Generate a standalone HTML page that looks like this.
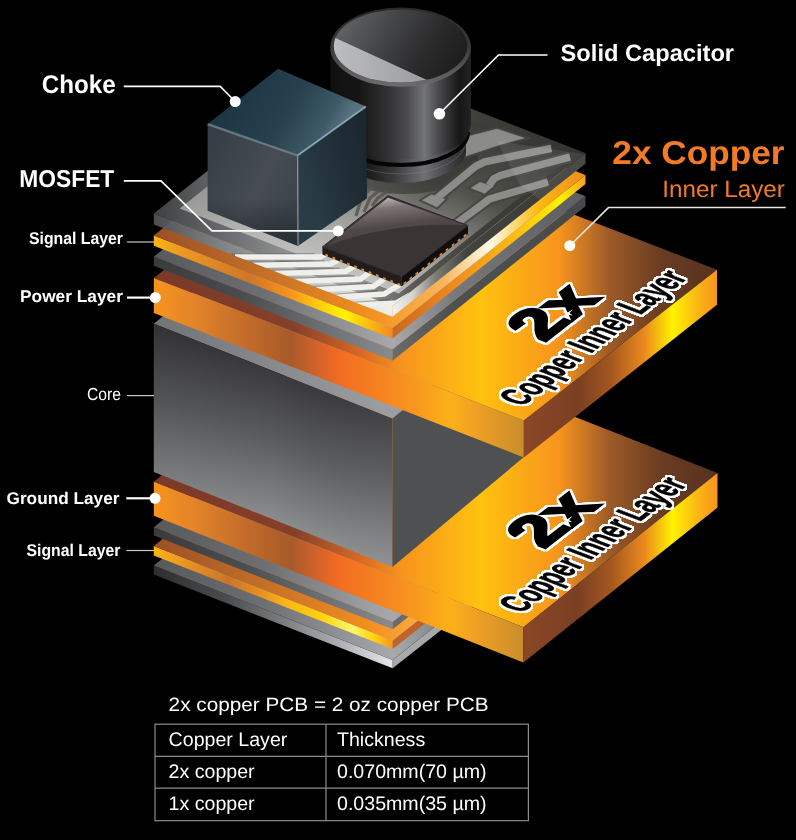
<!DOCTYPE html>
<html><head><meta charset="utf-8"><title>2x Copper PCB</title>
<style>
html,body{margin:0;padding:0;background:#000;}
body{width:796px;height:840px;overflow:hidden;}
svg{display:block;font-family:"Liberation Sans",Arial,sans-serif;will-change:transform;text-rendering:geometricPrecision;}
</style></head><body>
<svg width="796" height="840" viewBox="0 0 796 840">
<rect width="796" height="840" fill="#000"/>
<defs>
<linearGradient id="gGrayL" gradientUnits="userSpaceOnUse" x1="154" y1="0" x2="393" y2="0"><stop offset="0" stop-color="#3b3b3d"/><stop offset="0.35" stop-color="#4a4b4d"/><stop offset="1" stop-color="#898b8e"/></linearGradient>
<linearGradient id="gGrayTop" gradientUnits="userSpaceOnUse" x1="154" y1="0" x2="586" y2="0"><stop offset="0" stop-color="#58595b"/><stop offset="0.25" stop-color="#6d6e71"/><stop offset="0.553" stop-color="#a7a9ac"/><stop offset="0.7" stop-color="#77787b"/><stop offset="1" stop-color="#5c5d60"/></linearGradient>
<linearGradient id="gGrayR" gradientUnits="userSpaceOnUse" x1="393" y1="0" x2="586" y2="0"><stop offset="0" stop-color="#6a6b6e"/><stop offset="0.3" stop-color="#4f5052"/><stop offset="1" stop-color="#48494b"/></linearGradient>
<linearGradient id="gGray9L" gradientUnits="userSpaceOnUse" x1="154" y1="0" x2="393" y2="0"><stop offset="0" stop-color="#2e2e30"/><stop offset="0.3" stop-color="#4a4b4d"/><stop offset="0.75" stop-color="#a7a9ac"/><stop offset="1" stop-color="#e6e7e8"/></linearGradient>
<linearGradient id="gSigL" gradientUnits="userSpaceOnUse" x1="154" y1="0" x2="393" y2="0"><stop offset="0" stop-color="#fbb615"/><stop offset="0.1" stop-color="#f09a22"/><stop offset="0.4" stop-color="#cf752a"/><stop offset="0.57" stop-color="#f7941e"/><stop offset="0.7" stop-color="#ffd20e"/><stop offset="0.8" stop-color="#fff200"/><stop offset="0.9" stop-color="#fdb913"/><stop offset="1" stop-color="#f08a1e"/></linearGradient>
<linearGradient id="gSigL8" gradientUnits="userSpaceOnUse" x1="154" y1="0" x2="393" y2="0"><stop offset="0" stop-color="#fbb615"/><stop offset="0.1" stop-color="#f09a22"/><stop offset="0.31" stop-color="#c8752a"/><stop offset="0.45" stop-color="#e89022"/><stop offset="0.55" stop-color="#fbb615"/><stop offset="0.7" stop-color="#ffd20e"/><stop offset="0.83" stop-color="#fff56a"/><stop offset="0.92" stop-color="#ffd20e"/><stop offset="1" stop-color="#f7941e"/></linearGradient>
<linearGradient id="gSigTop" gradientUnits="userSpaceOnUse" x1="154" y1="0" x2="586" y2="0"><stop offset="0" stop-color="#9c4f26"/><stop offset="0.25" stop-color="#c36f28"/><stop offset="0.5" stop-color="#f38f1f"/><stop offset="0.58" stop-color="#f7a336"/><stop offset="0.67" stop-color="#f9b55e"/><stop offset="0.775" stop-color="#fffbe8"/><stop offset="0.89" stop-color="#fdb913"/><stop offset="1" stop-color="#f08a1e"/></linearGradient>
<linearGradient id="gSigR" gradientUnits="userSpaceOnUse" x1="393" y1="0" x2="586" y2="0"><stop offset="0" stop-color="#c8691f"/><stop offset="0.3" stop-color="#f0881e"/><stop offset="0.62" stop-color="#fdb913"/><stop offset="0.87" stop-color="#fff200"/><stop offset="1" stop-color="#f9a01e"/></linearGradient>
<linearGradient id="gSlabL" gradientUnits="userSpaceOnUse" x1="154" y1="0" x2="524" y2="0"><stop offset="0" stop-color="#f7941e"/><stop offset="0.12" stop-color="#e0822a"/><stop offset="0.26" stop-color="#c06a2a"/><stop offset="0.37" stop-color="#a85a2a"/><stop offset="0.45" stop-color="#d8642a"/><stop offset="0.5" stop-color="#f26c22"/><stop offset="0.61" stop-color="#f58220"/><stop offset="0.69" stop-color="#f7941e"/><stop offset="0.8" stop-color="#fbb01a"/><stop offset="0.87" stop-color="#f0a024"/><stop offset="1" stop-color="#c98d2b"/></linearGradient>
<linearGradient id="gSlabTop" gradientUnits="userSpaceOnUse" x1="154" y1="0" x2="717" y2="0"><stop offset="0" stop-color="#7a3828"/><stop offset="0.25" stop-color="#86402a"/><stop offset="0.37" stop-color="#d96a25"/><stop offset="0.44" stop-color="#f7941e"/><stop offset="0.58" stop-color="#ffc20e"/><stop offset="0.72" stop-color="#f7941e"/><stop offset="0.81" stop-color="#9c5a28"/><stop offset="0.9" stop-color="#6a3c22"/><stop offset="1" stop-color="#573220"/></linearGradient>
<linearGradient id="gSlabR" gradientUnits="userSpaceOnUse" x1="524" y1="0" x2="717" y2="0"><stop offset="0" stop-color="#8b4726"/><stop offset="0.28" stop-color="#7a3f22"/><stop offset="0.45" stop-color="#a3571f"/><stop offset="0.62" stop-color="#ea881e"/><stop offset="0.77" stop-color="#fff200"/><stop offset="0.9" stop-color="#fbb615"/><stop offset="1" stop-color="#f7941e"/></linearGradient>
<linearGradient id="gSlabTopSl" gradientUnits="userSpaceOnUse" x1="154" y1="0" x2="393" y2="0"><stop offset="0" stop-color="#7c3a27"/><stop offset="0.6" stop-color="#7c3a27"/><stop offset="1" stop-color="#b65b27"/></linearGradient>
<linearGradient id="gCoreL" gradientUnits="userSpaceOnUse" x1="290" y1="376" x2="236" y2="516"><stop offset="0" stop-color="#39393b"/><stop offset="0.45" stop-color="#5c5d5f"/><stop offset="1" stop-color="#909294"/></linearGradient>
<linearGradient id="gCoreLh" gradientUnits="userSpaceOnUse" x1="154" y1="0" x2="393" y2="0"><stop offset="0" stop-color="#000" stop-opacity="0.12"/><stop offset="0.5" stop-color="#000" stop-opacity="0.0"/><stop offset="1" stop-color="#fff" stop-opacity="0.05"/></linearGradient>
<linearGradient id="gSlabL2" gradientUnits="userSpaceOnUse" x1="154" y1="0" x2="524" y2="0"><stop offset="0" stop-color="#f7941e"/><stop offset="0.3" stop-color="#cf742c"/><stop offset="0.55" stop-color="#f26f21"/><stop offset="0.72" stop-color="#f7941e"/><stop offset="0.85" stop-color="#f9a81a"/><stop offset="1" stop-color="#c98d2b"/></linearGradient>
<linearGradient id="gSlabTop2" gradientUnits="userSpaceOnUse" x1="300" y1="0" x2="717" y2="0"><stop offset="0" stop-color="#f26f21"/><stop offset="0.22" stop-color="#f7941e"/><stop offset="0.42" stop-color="#ffc20e"/><stop offset="0.6" stop-color="#f7941e"/><stop offset="0.8" stop-color="#8b4a25"/><stop offset="1" stop-color="#5d3620"/></linearGradient>
<linearGradient id="gCoreTop" gradientUnits="userSpaceOnUse" x1="154" y1="0" x2="393" y2="0"><stop offset="0" stop-color="#727376"/><stop offset="1" stop-color="#9d9fa2"/></linearGradient>
<linearGradient id="gTBL" gradientUnits="userSpaceOnUse" x1="154" y1="0" x2="393" y2="0"><stop offset="0" stop-color="#4d5357" stop-opacity="0.92"/><stop offset="0.25" stop-color="#7a7e83" stop-opacity="0.96"/><stop offset="0.5" stop-color="#a2a3a4"/><stop offset="0.8" stop-color="#d9d9d5"/><stop offset="1" stop-color="#f2f2ec"/></linearGradient>
<linearGradient id="gTBR" gradientUnits="userSpaceOnUse" x1="393" y1="0" x2="586" y2="0"><stop offset="0" stop-color="#f2f2ec"/><stop offset="0.1" stop-color="#d5d5cf"/><stop offset="0.22" stop-color="#7d7d77"/><stop offset="0.38" stop-color="#41433f"/><stop offset="1" stop-color="#3a3a37"/></linearGradient>
<linearGradient id="gTBTop" gradientUnits="userSpaceOnUse" x1="154" y1="0" x2="586" y2="0"><stop offset="0" stop-color="#3e4042"/><stop offset="0.12" stop-color="#5e5f62"/><stop offset="0.28" stop-color="#88898b"/><stop offset="0.45" stop-color="#a8a9a9"/><stop offset="0.6" stop-color="#5a5a55"/><stop offset="0.75" stop-color="#3e3e3a"/><stop offset="1" stop-color="#323230"/></linearGradient>
<linearGradient id="gTBIn" gradientUnits="userSpaceOnUse" x1="300" y1="270.2" x2="376.9" y2="72.2"><stop offset="0" stop-color="#c6c6c4"/><stop offset="0.2" stop-color="#adadab"/><stop offset="0.42" stop-color="#80807c"/><stop offset="0.62" stop-color="#53534d"/><stop offset="1" stop-color="#3a3a37"/></linearGradient>
<linearGradient id="gTBInH" gradientUnits="userSpaceOnUse" x1="154" y1="0" x2="586" y2="0"><stop offset="0" stop-color="#000" stop-opacity="0.25"/><stop offset="0.2" stop-color="#000" stop-opacity="0.05"/><stop offset="0.35" stop-color="#fff" stop-opacity="0.04"/><stop offset="0.5" stop-color="#fff" stop-opacity="0.08"/><stop offset="0.7" stop-color="#000" stop-opacity="0.0"/><stop offset="1" stop-color="#000" stop-opacity="0.15"/></linearGradient>
<linearGradient id="gCapBody" gradientUnits="userSpaceOnUse" x1="330" y1="0" x2="471" y2="0"><stop offset="0" stop-color="#101010"/><stop offset="0.2" stop-color="#151515"/><stop offset="0.4" stop-color="#303032"/><stop offset="0.55" stop-color="#4c4c4e"/><stop offset="0.67" stop-color="#737477"/><stop offset="0.78" stop-color="#464648"/><stop offset="0.92" stop-color="#161616"/><stop offset="1" stop-color="#232323"/></linearGradient>
<linearGradient id="gCapTop" gradientUnits="userSpaceOnUse" x1="345" y1="15" x2="455" y2="80"><stop offset="0" stop-color="#626365"/><stop offset="0.35" stop-color="#444547"/><stop offset="0.7" stop-color="#2a2a2b"/><stop offset="1" stop-color="#1c1c1d"/></linearGradient>
<linearGradient id="gCapBase" gradientUnits="userSpaceOnUse" x1="335" y1="0" x2="466" y2="0"><stop offset="0" stop-color="#0c0c0c"/><stop offset="0.25" stop-color="#1a1a1a"/><stop offset="0.45" stop-color="#3a3a3c"/><stop offset="0.68" stop-color="#707174"/><stop offset="0.84" stop-color="#4a4a4c"/><stop offset="1" stop-color="#262626"/></linearGradient>
<linearGradient id="gCapWedge" gradientUnits="userSpaceOnUse" x1="335" y1="0" x2="430" y2="0"><stop offset="0" stop-color="#bcbdbf"/><stop offset="1" stop-color="#9a9b9d"/></linearGradient>
<linearGradient id="gCapRim" gradientUnits="userSpaceOnUse" x1="0" y1="8" x2="0" y2="87"><stop offset="0" stop-color="#2a2a2b"/><stop offset="0.5" stop-color="#3a3a3b"/><stop offset="1" stop-color="#6e6e70"/></linearGradient>
<linearGradient id="gCubeTop" gradientUnits="userSpaceOnUse" x1="240" y1="85" x2="335" y2="140"><stop offset="0" stop-color="#1c3743"/><stop offset="0.5" stop-color="#27424e"/><stop offset="0.85" stop-color="#3f5a67"/><stop offset="1" stop-color="#5a7280"/></linearGradient>
<linearGradient id="gCubeL" gradientUnits="userSpaceOnUse" x1="207" y1="150" x2="298" y2="200"><stop offset="0" stop-color="#353e46"/><stop offset="0.6" stop-color="#474c53"/><stop offset="1" stop-color="#3c444b"/></linearGradient>
<linearGradient id="gCubeLv" gradientUnits="userSpaceOnUse" x1="0" y1="130" x2="0" y2="246"><stop offset="0" stop-color="#000" stop-opacity="0"/><stop offset="0.6" stop-color="#000" stop-opacity="0"/><stop offset="1" stop-color="#101820" stop-opacity="0.45"/></linearGradient>
<linearGradient id="gCubeR" gradientUnits="userSpaceOnUse" x1="298" y1="170" x2="367" y2="150"><stop offset="0" stop-color="#2a3d47"/><stop offset="0.5" stop-color="#223039"/><stop offset="1" stop-color="#1c2830"/></linearGradient>
<linearGradient id="gMosGloss" gradientUnits="userSpaceOnUse" x1="388" y1="196" x2="395" y2="250"><stop offset="0" stop-color="#c9bebe"/><stop offset="0.22" stop-color="#7d7273"/><stop offset="0.55" stop-color="#51484a"/><stop offset="1" stop-color="#433b3c"/></linearGradient>
<filter id="outl" x="-10%" y="-10%" width="120%" height="120%" color-interpolation-filters="sRGB"><feMorphology in="SourceAlpha" operator="dilate" radius="2.2" result="d"/><feGaussianBlur in="d" stdDeviation="0.6" result="db"/><feComponentTransfer in="db" result="dd"><feFuncA type="linear" slope="3" intercept="-0.6"/></feComponentTransfer><feFlood flood-color="#fff"/><feComposite in2="dd" operator="in" result="w"/><feMerge><feMergeNode in="w"/><feMergeNode in="SourceGraphic"/></feMerge></filter>
</defs>
<polygon points="153.8,565.6 392.7,660.1 392.7,668.3 153.8,574.6" fill="url(#gGray9L)" />
<polygon points="392.7,660.1 585.7,507.1 585.7,516.1 392.7,668.3" fill="#a7a9ac" />
<polygon points="153.8,565.6 392.7,660.1 585.7,507.1 346.8,412.6" fill="url(#gGrayTop)" />
<polygon points="153.8,546.0 392.7,640.5 392.7,649.1 153.8,555.6" fill="url(#gSigL8)" />
<polygon points="392.7,640.5 585.7,487.5 585.7,497.1 392.7,649.1" fill="#c0632a" />
<polygon points="153.8,546.0 392.7,640.5 585.7,487.5 346.8,393.0" fill="url(#gSigTop)" />
<polygon points="153.8,527.2 392.7,621.7 392.7,629.3 153.8,535.4" fill="url(#gGrayL)" />
<polygon points="392.7,621.7 585.7,468.7 585.7,476.9 392.7,629.3" fill="#6a6b6e" />
<polygon points="153.8,527.2 392.7,621.7 585.7,468.7 346.8,374.2" fill="url(#gGrayTop)" />
<polygon points="153.8,481.7 523.4,627.3 717.5,473.1 347.9,327.5" fill="url(#gSlabTop)" />
<polygon points="153.8,481.7 523.4,627.3 523.4,662.5 153.8,515.8" fill="url(#gSlabL)" />
<polygon points="523.4,627.3 717.5,473.1 717.5,507.6 523.4,662.5" fill="url(#gSlabR)" />
<polygon points="153.8,323.7 392.4,418.6 585.4,260.6 346.8,165.7" fill="url(#gCoreTop)" />
<polygon points="153.8,323.7 392.4,418.6 392.4,566.9 153.8,472.0" fill="url(#gCoreL)" />
<polygon points="153.8,323.7 392.4,418.6 392.4,566.9 153.8,472.0" fill="url(#gCoreLh)" />
<polygon points="392.4,418.6 585.4,260.6 585.4,405.7 392.4,566.9" fill="#4f5052" />
<polygon points="153.8,278.0 523.8,420.5 717.0,269.7 347.0,127.2" fill="url(#gSlabTop)" />
<polygon points="153.8,278.0 523.8,420.5 523.8,457.4 153.8,313.0" fill="url(#gSlabL)" />
<polygon points="523.8,420.5 717.0,269.7 717.0,304.7 523.8,457.4" fill="url(#gSlabR)" />
<polygon points="153.8,256.7 392.5,349.3 392.5,360.8 153.8,265.8" fill="url(#gGrayL)" />
<polygon points="392.5,349.3 585.5,196.3 585.5,206.3 392.5,360.8" fill="url(#gGrayR)" />
<polygon points="153.8,256.7 392.5,349.3 585.5,196.3 346.8,103.7" fill="url(#gGrayTop)" />
<polygon points="153.8,235.5 392.5,328.1 392.5,338.6 153.8,245.8" fill="url(#gSigL)" />
<polygon points="392.5,328.1 585.5,175.1 585.5,184.1 392.5,338.6" fill="url(#gSigR)" />
<polygon points="153.8,235.5 392.5,328.1 585.5,175.1 346.8,82.5" fill="url(#gSigTop)" />
<polygon points="153.8,213.5 392.5,306.1 392.5,316.7 153.8,224.5" fill="url(#gTBL)" />
<polygon points="392.5,306.1 585.5,153.1 585.5,163.5 392.5,316.7" fill="url(#gTBR)" />
<polygon points="153.8,213.5 392.5,306.1 585.5,153.1 346.8,60.5" fill="url(#gTBTop)" />
<polygon points="179.7,208.5 398.7,293.5 568.3,159.0 349.3,74.0" fill="url(#gTBIn)" />
<polygon points="179.7,208.5 398.7,293.5 568.3,159.0 349.3,74.0" fill="url(#gTBInH)" />
<clipPath id="tbClip"><polygon points="153.8,213.5 346.8,60.5 585.5,153.1 392.5,306.1 392.5,316.7 153.8,224.5"/></clipPath>
<g clip-path="url(#tbClip)">
<polyline points="231.0,254.5 314.5,253.8" fill="none" stroke="#4a4a47" stroke-width="1.8" opacity="0.4"/>
<polyline points="235.0,257.0 320.5,257.0 329.0,252.0" fill="none" stroke="#efefec" stroke-width="5.4" stroke-linejoin="miter"/>
<polyline points="248.7,262.7 324.5,260.8" fill="none" stroke="#4a4a47" stroke-width="1.8" opacity="0.4"/>
<polyline points="252.7,265.2 330.5,264.0 341.0,258.5" fill="none" stroke="#efefec" stroke-width="5.4" stroke-linejoin="miter"/>
<polyline points="268.8,271.0 339.6,268.3" fill="none" stroke="#4a4a47" stroke-width="1.8" opacity="0.4"/>
<polyline points="272.8,273.5 345.6,271.5 356.0,265.0" fill="none" stroke="#efefec" stroke-width="5.4" stroke-linejoin="miter"/>
<polyline points="289.0,279.0 354.7,275.8" fill="none" stroke="#4a4a47" stroke-width="1.8" opacity="0.4"/>
<polyline points="293.0,281.5 360.7,279.0 371.0,271.5" fill="none" stroke="#efefec" stroke-width="5.4" stroke-linejoin="miter"/>
<polyline points="306.5,287.5 367.3,283.3" fill="none" stroke="#4a4a47" stroke-width="1.8" opacity="0.4"/>
<polyline points="310.5,290.0 373.3,286.5 384.0,279.0" fill="none" stroke="#efefec" stroke-width="5.4" stroke-linejoin="miter"/>
<polyline points="326.6,295.3 378.0,290.8" fill="none" stroke="#4a4a47" stroke-width="1.8" opacity="0.4"/>
<polyline points="330.6,297.8 384.0,294.0 400.0,284.5" fill="none" stroke="#efefec" stroke-width="5.4" stroke-linejoin="miter"/>
<polyline points="346.7,303.1 390.0,299.8" fill="none" stroke="#4a4a47" stroke-width="1.8" opacity="0.4"/>
<polyline points="350.7,305.6 396.0,303.0 410.0,295.0" fill="none" stroke="#efefec" stroke-width="5.4" stroke-linejoin="miter"/>
</g>
<ellipse cx="404" cy="160" rx="74" ry="34" fill="#2e2e2b" opacity="0.55"/>
<g fill="#45453f" stroke="#45453f" stroke-linejoin="miter" opacity="0.85">
<polygon points="466.0,137.0 497.1,129.0 524.3,138.1 500.5,144.4 466.0,156.0" stroke-width="4.5"/>
<polygon points="422.4,200.3 431.5,194.7 445.0,199.2 437.1,207.1" stroke-width="4.5"/>
<polyline points="437.1,198.0 475.6,166.4 484.7,161.9 551.4,148.3" fill="none" stroke-width="11.5"/>
<polygon points="471.1,187.9 480.1,182.2 492.6,186.7 484.7,193.5" stroke-width="4.5"/>
<polyline points="489.2,185.6 493.7,178.8 500.5,175.4 570.0,157.0" fill="none" stroke-width="11.5"/>
<polyline points="452.0,227.0 489.2,199.2 500.5,195.8 548.0,182.0" fill="none" stroke-width="11.5"/>
</g>
<g fill="#929290" stroke="#929290" stroke-linejoin="miter" opacity="0.92">
<polygon points="466.0,137.0 497.1,129.0 524.3,138.1 500.5,144.4 466.0,156.0" stroke-width="0.5"/>
<polygon points="422.4,200.3 431.5,194.7 445.0,199.2 437.1,207.1" stroke-width="0.5"/>
<polyline points="437.1,198.0 475.6,166.4 484.7,161.9 551.4,148.3" fill="none" stroke-width="7.4"/>
<polygon points="471.1,187.9 480.1,182.2 492.6,186.7 484.7,193.5" stroke-width="0.5"/>
<polyline points="489.2,185.6 493.7,178.8 500.5,175.4 570.0,157.0" fill="none" stroke-width="7.4"/>
<polyline points="452.0,227.0 489.2,199.2 500.5,195.8 548.0,182.0" fill="none" stroke-width="7.4"/>
</g>
<g fill="none" stroke="#5a554e" stroke-width="3.2" opacity="0.85">
<polyline points="356.0,216.0 362.0,196.0 372.0,188.0"/>
<polyline points="364.0,212.0 370.0,198.0 380.0,190.0"/>
<polyline points="372.0,206.0 378.0,198.0 388.0,191.0"/>
</g>
<polygon points="497.0,141.0 585.5,154.3 585.5,164.7 540.0,200.0 520.0,185.0" fill="#fff" opacity="0.08"/>
<polygon points="298.0,55.0 333.0,55.0 333.0,95.0 298.0,102.0" fill="#000" />
<path d="M335,135 L335,150 A65.5,33 0 0 0 466,150 L466,135 Z" fill="url(#gCapBase)"/>
<path d="M335,141 A65.5,33 0 0 0 466,141" fill="none" stroke="#8a8b8e" stroke-width="1" opacity="0.35"/>
<path d="M333,132 A67.5,33 0 0 0 468,132" fill="none" stroke="#050505" stroke-width="4"/>
<path d="M330.3,47 L330.3,122 Q330.3,128 332,131 A68.6,30 0 0 0 469,131 Q470.9,128 470.9,122 L470.9,47 Z" fill="url(#gCapBody)"/>
<ellipse cx="400.6" cy="47.2" rx="70.3" ry="39.6" fill="url(#gCapRim)"/>
<ellipse cx="400.6" cy="46.0" rx="66.8" ry="36.6" fill="url(#gCapTop)"/>
<clipPath id="capClip"><ellipse cx="400.6" cy="46.0" rx="66.8" ry="36.6"/></clipPath>
<polygon points="335,37.7 428,80.4 428,100 320,100 320,37" fill="url(#gCapWedge)" clip-path="url(#capClip)"/>
<polygon points="207.6,124.1 297.5,155.5 298.0,246.0 207.6,210.8" fill="url(#gCubeL)" />
<polygon points="207.6,124.1 297.5,155.5 298.0,246.0 207.6,210.8" fill="url(#gCubeLv)" />
<polygon points="297.5,155.5 365.9,106.5 367.1,198.2 298.0,246.0" fill="url(#gCubeR)" />
<polygon points="278.0,68.8 365.9,106.5 297.5,155.5 207.6,124.1" fill="url(#gCubeTop)" />
<polyline points="207.6,124.1 297.5,155.5" fill="none" stroke="#76848c" stroke-width="2.2" opacity="0.8"/>
<polyline points="297.5,155.5 365.9,106.5" fill="none" stroke="#94b4c3" stroke-width="1.8" opacity="0.85"/>
<line x1="297.7" y1="156" x2="298" y2="245.5" stroke="#a9b4ba" stroke-width="1.1" opacity="0.8"/>
<polygon points="322.4,246.9 401.8,276.8 401.8,286.3 322.4,254.5" fill="#211d1e" />
<polygon points="401.8,276.8 468.0,225.6 468.0,234.1 401.8,286.3" fill="#0f0d0d" />
<g fill="#f08a1e">
<polygon points="325.4,253.7 328.0,254.7 328.0,256.8 325.4,255.8"/>
<polygon points="332.6,256.6 335.2,257.6 335.2,259.7 332.6,258.7"/>
<polygon points="339.9,259.5 342.5,260.5 342.5,262.6 339.9,261.6"/>
<polygon points="347.1,262.4 349.7,263.4 349.7,265.5 347.1,264.5"/>
<polygon points="354.3,265.3 356.9,266.3 356.9,268.4 354.3,267.4"/>
<polygon points="361.5,268.2 364.1,269.2 364.1,271.3 361.5,270.3"/>
<polygon points="368.7,271.1 371.3,272.1 371.3,274.2 368.7,273.2"/>
<polygon points="376.0,274.0 378.6,275.0 378.6,277.1 376.0,276.1"/>
<polygon points="383.2,276.9 385.8,277.9 385.8,280.0 383.2,279.0"/>
<polygon points="390.4,279.8 393.0,280.8 393.0,282.9 390.4,281.9"/>
<polygon points="397.6,282.7 400.2,283.7 400.2,285.8 397.6,284.8"/>
<polygon points="403.5,282.7 406.1,280.9 406.1,283.0 403.5,284.8"/>
<polygon points="409.5,278.0 412.1,276.2 412.1,278.3 409.5,280.1"/>
<polygon points="415.5,273.2 418.1,271.4 418.1,273.5 415.5,275.3"/>
<polygon points="421.6,268.5 424.2,266.7 424.2,268.8 421.6,270.6"/>
<polygon points="427.6,263.7 430.2,261.9 430.2,264.0 427.6,265.8"/>
<polygon points="433.6,259.0 436.2,257.2 436.2,259.3 433.6,261.1"/>
<polygon points="439.6,254.3 442.2,252.5 442.2,254.6 439.6,256.4"/>
<polygon points="445.6,249.5 448.2,247.7 448.2,249.8 445.6,251.6"/>
<polygon points="451.7,244.8 454.3,243.0 454.3,245.1 451.7,246.9"/>
<polygon points="457.7,240.0 460.3,238.2 460.3,240.3 457.7,242.1"/>
<polygon points="463.7,235.3 466.3,233.5 466.3,235.6 463.7,237.4"/>
</g>
<polygon points="388.0,195.7 468.0,225.6 401.8,276.8 322.4,246.9" fill="#3b3435" stroke="#2a2526" stroke-width="1"/>
<path d="M326.4,245.9 Q390.0,222.0 465.0,225.1 L388.0,197.7 Z" fill="url(#gMosGloss)"/>
<polyline points="123.8,86.4 220.2,86.4 235.2,101.5" fill="none" stroke="#fff" stroke-width="1.6"/>
<circle cx="235.2" cy="101.5" r="5.5" fill="#fff"/>
<polyline points="123.8,180.9 161.0,180.9 212.0,230.9 338.2,230.9" fill="none" stroke="#fff" stroke-width="1.6"/>
<circle cx="338.2" cy="230.9" r="5.5" fill="#fff"/>
<polyline points="547.5,55.0 498.5,55.0 439.4,113.8" fill="none" stroke="#fff" stroke-width="1.6"/>
<circle cx="439.4" cy="113.8" r="5.8" fill="#fff"/>
<polyline points="785.7,207.6 608.5,207.6 569.8,245.7" fill="none" stroke="#e6e6e6" stroke-width="1.5"/>
<circle cx="569.8" cy="245.7" r="5.5" fill="#fff"/>
<polyline points="127.0,242.0 154.0,242.0" fill="none" stroke="#c8c8c8" stroke-width="1.2"/>
<polyline points="127.0,297.6 155.0,297.6" fill="none" stroke="#fff" stroke-width="2.2"/>
<circle cx="155.3" cy="297.6" r="5.5" fill="#fff"/>
<polyline points="127.0,395.6 154.0,395.6" fill="none" stroke="#c8c8c8" stroke-width="1.2"/>
<polyline points="126.3,498.3 155.0,498.3" fill="none" stroke="#fff" stroke-width="2.2"/>
<circle cx="155" cy="498.3" r="5.5" fill="#fff"/>
<polyline points="126.3,550.5 154.0,550.5" fill="none" stroke="#c8c8c8" stroke-width="1.2"/>
<text x="41.8" y="92.8" font-size="25.5" font-weight="bold" fill="#fff" text-anchor="start" textLength="74" lengthAdjust="spacingAndGlyphs" >Choke</text>
<text x="19.3" y="187.3" font-size="24.5" font-weight="bold" fill="#fff" text-anchor="start" textLength="95" lengthAdjust="spacingAndGlyphs" >MOSFET</text>
<text x="560.6" y="60.5" font-size="23.5" font-weight="bold" fill="#fff" text-anchor="start" textLength="173.5" lengthAdjust="spacingAndGlyphs" >Solid Capacitor</text>
<text x="29" y="243.9" font-size="17" font-weight="bold" fill="#fff" text-anchor="start" textLength="94" lengthAdjust="spacingAndGlyphs" >Signal Layer</text>
<text x="20" y="301.8" font-size="17" font-weight="bold" fill="#fff" text-anchor="start" textLength="103" lengthAdjust="spacingAndGlyphs" >Power Layer</text>
<text x="87" y="399.6" font-size="17.4" font-weight="normal" fill="#fff" text-anchor="start" textLength="34" lengthAdjust="spacingAndGlyphs" >Core</text>
<text x="6.5" y="503.5" font-size="17" font-weight="bold" fill="#fff" text-anchor="start" textLength="113" lengthAdjust="spacingAndGlyphs" >Ground Layer</text>
<text x="26.5" y="555.8" font-size="17" font-weight="bold" fill="#fff" text-anchor="start" textLength="94" lengthAdjust="spacingAndGlyphs" >Signal Layer</text>
<text x="612.3" y="163.9" font-size="33" font-weight="bold" fill="#f47a24" text-anchor="start" textLength="172.2" lengthAdjust="spacingAndGlyphs" >2x Copper</text>
<text x="662.3" y="196.6" font-size="23.5" font-weight="normal" fill="#f47a24" text-anchor="start" textLength="122.5" lengthAdjust="spacingAndGlyphs" >Inner Layer</text>
<g font-weight="bold" fill="#000" stroke="#000" filter="url(#outl)">
<text transform="matrix(0.79,-0.613,0.9332,0.3594,522.0,407.0)" x="0" y="0" font-size="39" stroke-width="0.8" textLength="211" lengthAdjust="spacingAndGlyphs">Copper Inner Layer</text>
<text transform="matrix(0.79,-0.613,0.9332,0.3594,544.0,342.5)" x="0" y="0" font-size="65" stroke-width="3.2" stroke-linejoin="miter" textLength="73" lengthAdjust="spacingAndGlyphs">2x</text>
</g>
<g font-weight="bold" fill="#000" stroke="#000" filter="url(#outl)">
<text transform="matrix(0.79,-0.613,0.9332,0.3594,521.6,613.8)" x="0" y="0" font-size="39" stroke-width="0.8" textLength="211" lengthAdjust="spacingAndGlyphs">Copper Inner Layer</text>
<text transform="matrix(0.79,-0.613,0.9332,0.3594,543.6,549.3)" x="0" y="0" font-size="65" stroke-width="3.2" stroke-linejoin="miter" textLength="73" lengthAdjust="spacingAndGlyphs">2x</text>
</g>
<polygon points="573.0,309.2 569.5,313.1 572.7,315.5 567.4,314.6 562.0,317.8 565.5,313.9 562.3,311.5 567.6,312.4" fill="#fff" />
<polygon points="572.6,516.0 569.1,519.9 572.3,522.3 567.0,521.4 561.6,524.6 565.1,520.7 561.9,518.3 567.2,519.2" fill="#fff" />
<g font-family="'Liberation Sans',Arial,sans-serif" fill="#fff" font-size="19.6">
<text x="168.6" y="711" font-size="19.3" textLength="320" lengthAdjust="spacingAndGlyphs">2x copper PCB = 2 oz copper PCB</text>
<text x="168.6" y="745.5">Copper Layer</text>
<text x="337" y="745.5">Thickness</text>
<text x="168.6" y="778">2x copper</text>
<text x="337" y="778">0.070mm(70 µm)</text>
<text x="168.6" y="809.8">1x copper</text>
<text x="337" y="809.8">0.035mm(35 µm)</text>
</g>
<g fill="none" stroke="#8c8c8c" stroke-width="1.2">
<rect x="155" y="724.2" width="373.4" height="96.5"/>
<line x1="155" y1="756.4" x2="528.4" y2="756.4"/>
<line x1="155" y1="788.2" x2="528.4" y2="788.2"/>
<line x1="326" y1="724.2" x2="326" y2="820.7"/>
</g>
</svg>
</body></html>
